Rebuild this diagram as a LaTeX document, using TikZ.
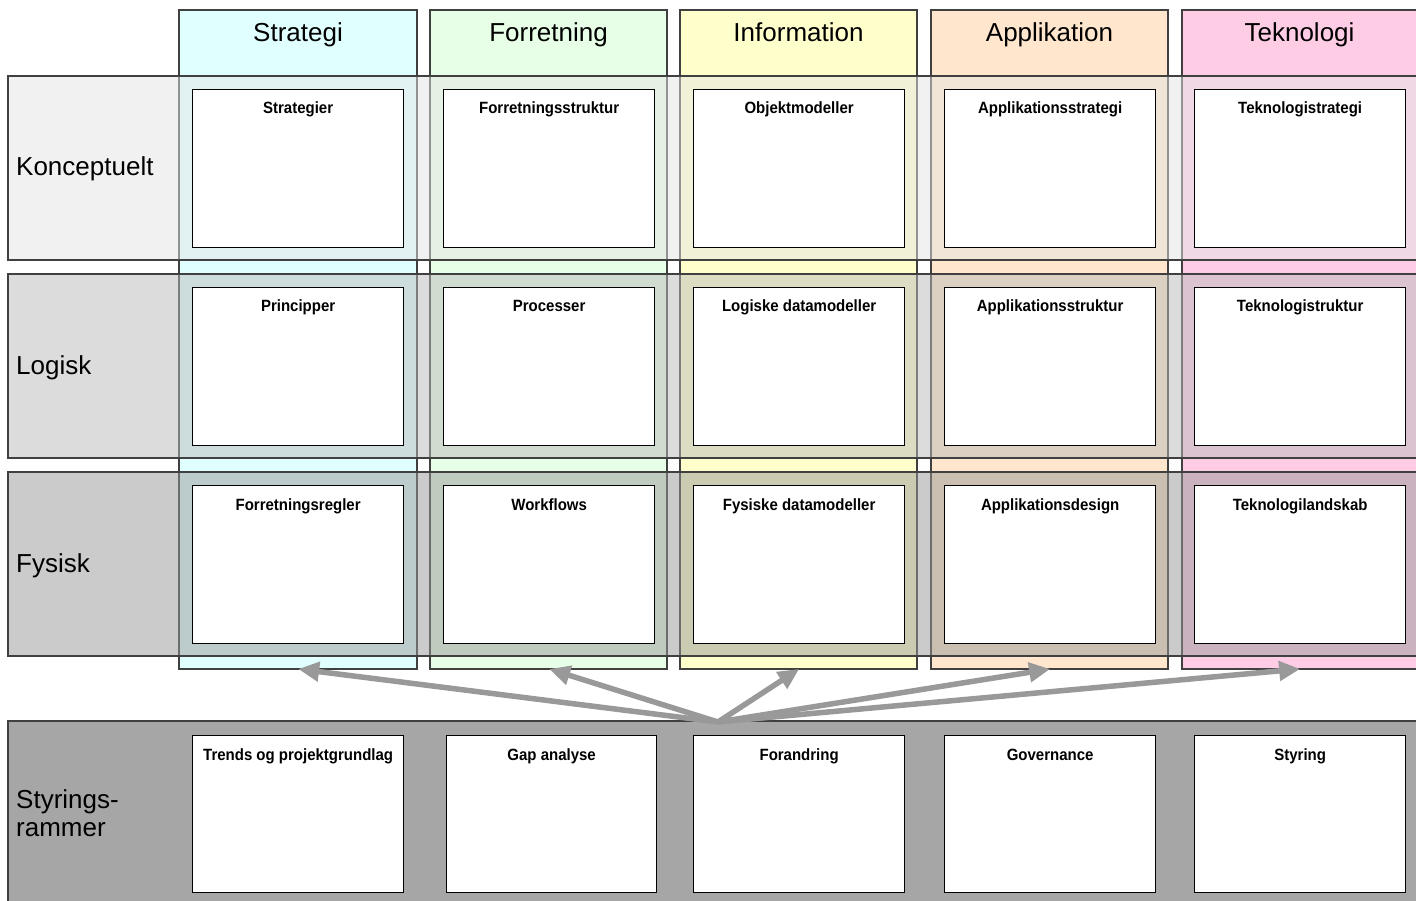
\documentclass[tikz,border=0pt]{standalone}
\usepackage{fontspec}
\setmainfont{Liberation Sans}
\newfontfamily\titlefont[FakeStretch=0.92]{Liberation Sans Bold}
\usetikzlibrary{arrows.meta}
\definecolor{cStrat}{HTML}{E0FFFF}
\definecolor{cForr}{HTML}{E6FFE6}
\definecolor{cInfo}{HTML}{FFFFCC}
\definecolor{cAppl}{HTML}{FFE6CC}
\definecolor{cTekn}{HTML}{FFCCE6}
\definecolor{rKon}{HTML}{E5E5E5}
\definecolor{rLog}{HTML}{BBBBBB}
\definecolor{rFys}{HTML}{999999}
\definecolor{rSty}{HTML}{A6A6A6}
\definecolor{arrowgray}{HTML}{999999}
\definecolor{edgegray}{HTML}{404040}
\begin{document}
\begin{tikzpicture}[x=1pt,y=-1pt,
  colbox/.style={draw=edgegray,line width=1.1pt},
  rowbox/.style={draw=edgegray,line width=1.1pt,fill opacity=0.5},
  cellbox/.style={draw=black,fill=white,line width=1.3pt},
  headtext/.style={font=\fontsize{26}{30}\selectfont,anchor=base},
  rowtext/.style={font=\fontsize{26}{28}\selectfont,anchor=base west,align=left,inner sep=0pt},
  celltext/.style={font=\titlefont\fontsize{16.3}{19}\selectfont,anchor=base},
  flow/.style={draw=arrowgray,line width=5.5pt,-{Triangle[length=21pt,width=19pt]}}]
\useasboundingbox (0,0) rectangle (1416,901);
\fill[white] (0,0) rectangle (1416,901);
% columns
\path[colbox,fill=cStrat] (179,10) rectangle (417,669) coordinate[pos=0.5] (col1);
\path[colbox,fill=cForr] (430,10) rectangle (667,669) coordinate[pos=0.5] (col2);
\path[colbox,fill=cInfo] (680,10) rectangle (917,669) coordinate[pos=0.5] (col3);
\path[colbox,fill=cAppl] (931,10) rectangle (1168,669) coordinate[pos=0.5] (col4);
\path[colbox,fill=cTekn] (1182,10) rectangle (1422,669) coordinate[pos=0.5] (col5);
\node[headtext] (h1) at (298,42) {Strategi};
\node[headtext] (h2) at (548.5,42) {Forretning};
\node[headtext] (h3) at (798.5,42) {Information};
\node[headtext] (h4) at (1049.5,42) {Applikation};
\node[headtext] (h5) at (1299.5,42) {Teknologi};
% rows
\path[rowbox,fill=rKon] (8,76) rectangle (1422,260);
\path[rowbox,fill=rLog] (8,274) rectangle (1422,458);
\path[rowbox,fill=rFys] (8,472) rectangle (1422,656);
\node[rowtext] (r1) at (16,176) {Konceptuelt};
\node[rowtext] (r2) at (16,374) {Logisk};
\node[rowtext] (r3) at (16,572) {Fysisk};
% cells
\foreach \n/\xa/\xb in {1/192/403,2/443/654,3/693/904,4/944/1155,5/1194/1405}{
  \foreach \m/\ya/\yb in {1/89/247,2/287/445,3/485/643}{
    \node[cellbox,anchor=north west,inner sep=0pt,minimum width={\xb-\xa},minimum height={\yb-\ya}] (b\n\m) at (\xa,\ya) {};
  }
}
\node[celltext] (t11) at ([yshift=-25pt]b11.north) {Strategier};
\node[celltext] (t21) at ([yshift=-25pt]b21.north) {Forretningsstruktur};
\node[celltext] (t31) at ([yshift=-25pt]b31.north) {Objektmodeller};
\node[celltext] (t41) at ([yshift=-25pt]b41.north) {Applikationsstrategi};
\node[celltext] (t51) at ([yshift=-25pt]b51.north) {Teknologistrategi};
\node[celltext] (t12) at ([yshift=-25pt]b12.north) {Principper};
\node[celltext] (t22) at ([yshift=-25pt]b22.north) {Processer};
\node[celltext] (t32) at ([yshift=-25pt]b32.north) {Logiske datamodeller};
\node[celltext] (t42) at ([yshift=-25pt]b42.north) {Applikationsstruktur};
\node[celltext] (t52) at ([yshift=-25pt]b52.north) {Teknologistruktur};
\node[celltext] (t13) at ([yshift=-25pt]b13.north) {Forretningsregler};
\node[celltext] (t23) at ([yshift=-25pt]b23.north) {Workflows};
\node[celltext] (t33) at ([yshift=-25pt]b33.north) {Fysiske datamodeller};
\node[celltext] (t43) at ([yshift=-25pt]b43.north) {Applikationsdesign};
\node[celltext] (t53) at ([yshift=-25pt]b53.north) {Teknologilandskab};
% governance row
\path[colbox,fill=rSty] (8,721) rectangle (1422,906);
\node[rowtext] (r4) at (16,836) {Styrings-\\rammer};
\foreach \n/\xa/\xb in {1/192/403,2/446/656,3/693/904,4/944/1155,5/1194/1405}{
  \node[cellbox,anchor=north west,inner sep=0pt,minimum width={\xb-\xa},minimum height={892-735}] (s\n) at (\xa,735) {};
}
\node[celltext] (u1) at ([yshift=-25pt]s1.north) {Trends og projektgrundlag};
\node[celltext] (u2) at ([yshift=-25pt]s2.north) {Gap analyse};
\node[celltext] (u3) at ([yshift=-25pt]s3.north) {Forandring};
\node[celltext] (u4) at ([yshift=-25pt]s4.north) {Governance};
\node[celltext] (u5) at ([yshift=-25pt]s5.north) {Styring};
% arrows
\coordinate (src) at (718,722);
\foreach \n in {1,...,5}{
  \coordinate (dst\n) at (b\n3.south |- 0,669);
  \draw[flow] (src) -- (dst\n);
}
\end{tikzpicture}
\end{document}
